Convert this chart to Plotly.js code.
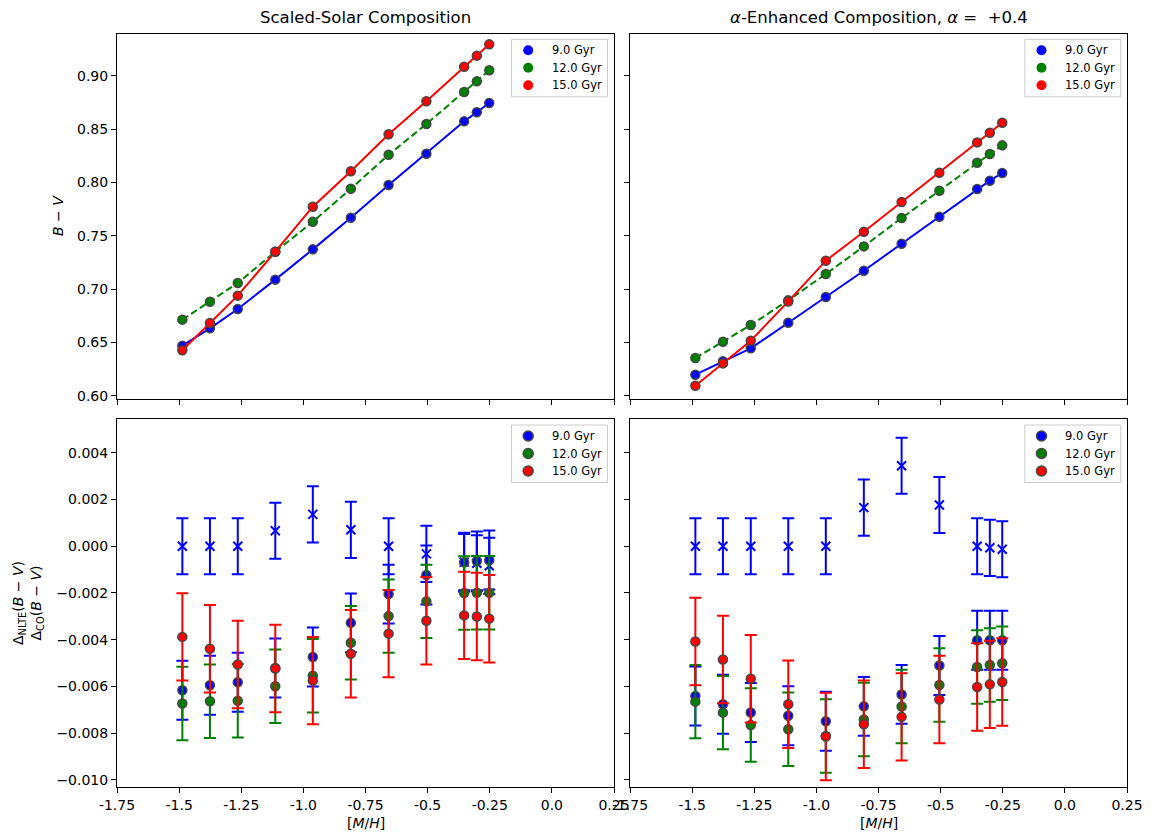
<!DOCTYPE html>
<html>
<head>
<meta charset="utf-8">
<script src="https://cdn.plot.ly/plotly-3.0.1.min.js"></script>
<style>html,body{margin:0;padding:0;background:#fff;}#chart{width:1154px;height:837px;}</style>
</head>
<body>
<div id="chart"></div>
<script>
// ---------------- DATA ----------------
const metallicity = [-1.487, -1.376, -1.264, -1.113, -0.962, -0.809, -0.657, -0.505, -0.353, -0.302, -0.252];
const ageLabels = ['9.0 Gyr', '12.0 Gyr', '15.0 Gyr'];
const xTickVals = [-1.75, -1.5, -1.25, -1.0, -0.75, -0.5, -0.25, 0.0, 0.25];
const xTickText = ['-1.75', '-1.5', '-1.25', '-1.0', '-0.75', '-0.5', '-0.25', '0.0', '0.25'];

// B - V, scaled-solar
const bvSolar9  = [0.6469, 0.6632, 0.6813, 0.7088, 0.7372, 0.7669, 0.7975, 0.8269, 0.8572, 0.8657, 0.8744];
const bvSolar12 = [0.6713, 0.6881, 0.7057, 0.7350, 0.7631, 0.7941, 0.8259, 0.8547, 0.8847, 0.8947, 0.9051];
const bvSolar15 = [0.6426, 0.6682, 0.6938, 0.7350, 0.7772, 0.8104, 0.8451, 0.8760, 0.9084, 0.9188, 0.9294];
// B - V, alpha-enhanced
const bvAlpha9  = [0.6197, 0.6322, 0.6444, 0.6684, 0.6925, 0.7172, 0.7425, 0.7678, 0.7938, 0.8016, 0.8088];
const bvAlpha12 = [0.6353, 0.6506, 0.6663, 0.6894, 0.7141, 0.7400, 0.7666, 0.7922, 0.8184, 0.8266, 0.8347];
const bvAlpha15 = [0.6094, 0.6303, 0.6516, 0.6884, 0.7266, 0.7537, 0.7816, 0.8091, 0.8375, 0.8466, 0.8559];

// Delta_NLTE (9 Gyr)
const nlteSolar9 = [0.0000, 0.0000, 0.0000, 0.00066, 0.00136, 0.00070, 0.0000, -0.00033, -0.00068, -0.00073, -0.00084];
const nlteAlpha9 = [0.0000, 0.0000, 0.0000, 0.0000, 0.0000, 0.00165, 0.00344, 0.00176, 0.0000, -0.00007, -0.00013];
const nlteErr    = [0.0012, 0.0012, 0.0012, 0.0012, 0.0012, 0.0012, 0.0012, 0.0012, 0.0012, 0.0012, 0.0012];

// Delta_CO
const coSolar9  = [-0.00616, -0.00595, -0.00582, -0.00521, -0.00474, -0.00328, -0.00205, -0.00123, -0.00069, -0.00063, -0.00059];
const coSolar12 = [-0.00673, -0.00663, -0.00661, -0.00599, -0.00554, -0.00413, -0.00299, -0.00236, -0.00200, -0.00199, -0.00199];
const coSolar15 = [-0.00388, -0.00439, -0.00506, -0.00523, -0.00575, -0.00460, -0.00374, -0.00319, -0.00296, -0.00301, -0.00310];
const coAlpha9  = [-0.00641, -0.00676, -0.00711, -0.00725, -0.00749, -0.00685, -0.00634, -0.00510, -0.00402, -0.00402, -0.00402];
const coAlpha12 = [-0.00665, -0.00712, -0.00765, -0.00783, -0.00812, -0.00741, -0.00686, -0.00594, -0.00517, -0.00508, -0.00501];
const coAlpha15 = [-0.00408, -0.00485, -0.00567, -0.00676, -0.00814, -0.00762, -0.00730, -0.00656, -0.00602, -0.00591, -0.00581];
const coErr9  = [0.00126, 0.00126, 0.00126, 0.00126, 0.00126, 0.00126, 0.00126, 0.00126, 0.00126, 0.00126, 0.00126];
const coErr12 = [0.00157, 0.00157, 0.00157, 0.00157, 0.00157, 0.00157, 0.00157, 0.00157, 0.00157, 0.00157, 0.00157];
const coErr15 = [0.00187, 0.00187, 0.00187, 0.00187, 0.00187, 0.00187, 0.00187, 0.00187, 0.00187, 0.00187, 0.00187];

// ---------------- STYLE ----------------
const colors = ['#0000ff', '#008000', '#ff0000'];
const edge = 'rgb(70,70,70)';
const W = 1154, H = 837;
const px = v => v / W, py = v => 1 - v / H;
const FONT = 'DejaVu Sans, sans-serif';

const traces = [];
function topTrace(y, i, xa, ya) {
  traces.push({
    x: metallicity, y: y, xaxis: xa, yaxis: ya, mode: 'lines+markers', name: ageLabels[i], showlegend: false,
    line: {color: colors[i], width: 2, dash: i === 1 ? '7px,3.5px' : 'solid'},
    marker: {size: 9, color: colors[i], line: {color: edge, width: 1.5}},
    hoverinfo: 'skip'
  });
}
function nlteTrace(y, xa, ya) {
  traces.push({
    x: metallicity, y: y, xaxis: xa, yaxis: ya, mode: 'markers', showlegend: false,
    marker: {symbol: 'x-thin', size: 9, color: colors[0], line: {color: colors[0], width: 2}},
    error_y: {type: 'data', array: nlteErr, visible: true, color: colors[0], thickness: 2, width: 6},
    hoverinfo: 'skip'
  });
}
function coTrace(y, err, i, xa, ya) {
  traces.push({
    x: metallicity, y: y, xaxis: xa, yaxis: ya, mode: 'markers', name: ageLabels[i], showlegend: false,
    marker: {size: 9, color: colors[i], line: {color: edge, width: 1.5}},
    error_y: {type: 'data', array: err, visible: true, color: colors[i], thickness: 2, width: 6},
    hoverinfo: 'skip'
  });
}

topTrace(bvSolar9, 0, 'x', 'y'); topTrace(bvSolar12, 1, 'x', 'y'); topTrace(bvSolar15, 2, 'x', 'y');
topTrace(bvAlpha9, 0, 'x2', 'y2'); topTrace(bvAlpha12, 1, 'x2', 'y2'); topTrace(bvAlpha15, 2, 'x2', 'y2');
nlteTrace(nlteSolar9, 'x3', 'y3');
coTrace(coSolar9, coErr9, 0, 'x3', 'y3'); coTrace(coSolar12, coErr12, 1, 'x3', 'y3'); coTrace(coSolar15, coErr15, 2, 'x3', 'y3');
nlteTrace(nlteAlpha9, 'x4', 'y4');
coTrace(coAlpha9, coErr9, 0, 'x4', 'y4'); coTrace(coAlpha12, coErr12, 1, 'x4', 'y4'); coTrace(coAlpha15, coErr15, 2, 'x4', 'y4');

const xdomL = [px(117), px(614)], xdomR = [px(630), px(1127)];
const ydomT = [py(398.7), py(34)], ydomB = [py(787), py(419)];

function xa(dom, anchor, labels) {
  return {domain: dom, anchor: anchor, range: [-1.75, 0.25], tickmode: 'array', tickvals: xTickVals, ticktext: xTickText,
    showticklabels: labels, ticks: 'outside', ticklen: 5, tickwidth: 1, tickcolor: '#000',
    showline: true, mirror: true, linecolor: '#000', linewidth: 1, showgrid: false, zeroline: false,
    tickfont: {family: FONT, size: 14, color: '#000'}, fixedrange: true};
}
function ya(dom, anchor, range, dtick, fmt, labels) {
  return {domain: dom, anchor: anchor, range: range, dtick: dtick, tick0: 0, tickformat: fmt,
    showticklabels: labels, ticks: 'outside', ticklen: 5, tickwidth: 1, tickcolor: '#000',
    showline: true, mirror: true, linecolor: '#000', linewidth: 1, showgrid: false, zeroline: false,
    tickfont: {family: FONT, size: 14, color: '#000'}, fixedrange: true};
}

const topRange = [0.5972, 0.9391];
const botRange = [-0.01030, 0.00544];

const annFont = {family: FONT, size: 16.5, color: '#000'};
const labFont = {family: FONT, size: 14, color: '#000'};
const annotations = [
  {text: 'Scaled-Solar Composition', x: px(365.5), y: py(18), xref: 'paper', yref: 'paper', showarrow: false, xanchor: 'center', yanchor: 'middle', font: annFont},
  {text: '<i>α</i>-Enhanced Composition, <i>α</i> =  +0.4', x: px(878.5), y: py(18), xref: 'paper', yref: 'paper', showarrow: false, xanchor: 'center', yanchor: 'middle', font: annFont},
  {text: '<i>B</i> − <i>V</i>', x: px(58), y: py(216), xref: 'paper', yref: 'paper', showarrow: false, textangle: -90, xanchor: 'center', yanchor: 'middle', font: labFont},
  {text: 'Δ<sub>NLTE</sub>(<i>B</i> − <i>V</i>)<br>Δ<sub>CO</sub>(<i>B</i> − <i>V</i>)', x: px(28), y: py(603), xref: 'paper', yref: 'paper', showarrow: false, textangle: -90, xanchor: 'center', yanchor: 'middle', font: labFont},
  {text: '[<i>M</i>/<i>H</i>]', x: px(365.5), y: py(823), xref: 'paper', yref: 'paper', showarrow: false, xanchor: 'center', yanchor: 'middle', font: labFont},
  {text: '[<i>M</i>/<i>H</i>]', x: px(878.5), y: py(823), xref: 'paper', yref: 'paper', showarrow: false, xanchor: 'center', yanchor: 'middle', font: labFont}
];
const shapes = [];

// legend boxes (drawn in the style of the reference's matplotlib legends)
function addLegend(left, top, withEdge) {
  const boxW = 96, boxH = 57.5;
  shapes.push({type: 'rect', xref: 'paper', yref: 'paper', x0: px(left), x1: px(left + boxW), y0: py(top + boxH), y1: py(top),
    line: {color: '#cccccc', width: 1}, fillcolor: 'rgba(255,255,255,0.85)', layer: 'above'});
  ageLabels.forEach((lab, i) => {
    const cy = top + 11 + i * 17.5;
    shapes.push({type: 'circle', xref: 'paper', yref: 'paper', xsizemode: 'pixel', ysizemode: 'pixel',
      xanchor: px(left + 16.7), yanchor: py(cy), x0: -5, x1: 5, y0: -5, y1: 5,
      fillcolor: colors[i], line: {color: withEdge ? edge : colors[i], width: withEdge ? 1.5 : 0}, layer: 'above'});
    annotations.push({text: lab, x: px(left + 38.5), y: py(cy), xref: 'paper', yref: 'paper', showarrow: false,
      xanchor: 'left', yanchor: 'middle', font: {family: FONT, size: 11.5, color: '#000'}});
  });
}
addLegend(511.5, 39.3, false);
addLegend(1024.8, 39.3, false);
addLegend(511.5, 425, true);
addLegend(1024.8, 425, true);

const layout = {
  width: W, height: H, margin: {l: 0, r: 0, t: 0, b: 0}, paper_bgcolor: '#fff', plot_bgcolor: '#fff',
  font: {family: FONT, color: '#000'}, showlegend: false,
  xaxis: xa(xdomL, 'y', false), yaxis: ya(ydomT, 'x', topRange, 0.05, '.2f', true),
  xaxis2: xa(xdomR, 'y2', false), yaxis2: ya(ydomT, 'x2', topRange, 0.05, '.2f', false),
  xaxis3: xa(xdomL, 'y3', true), yaxis3: ya(ydomB, 'x3', botRange, 0.002, '.3f', true),
  xaxis4: xa(xdomR, 'y4', true), yaxis4: ya(ydomB, 'x4', botRange, 0.002, '.3f', false),
  shapes: shapes,
  annotations: annotations
};

Plotly.newPlot('chart', traces, layout, {displayModeBar: false, staticPlot: true});
</script>
</body>
</html>
